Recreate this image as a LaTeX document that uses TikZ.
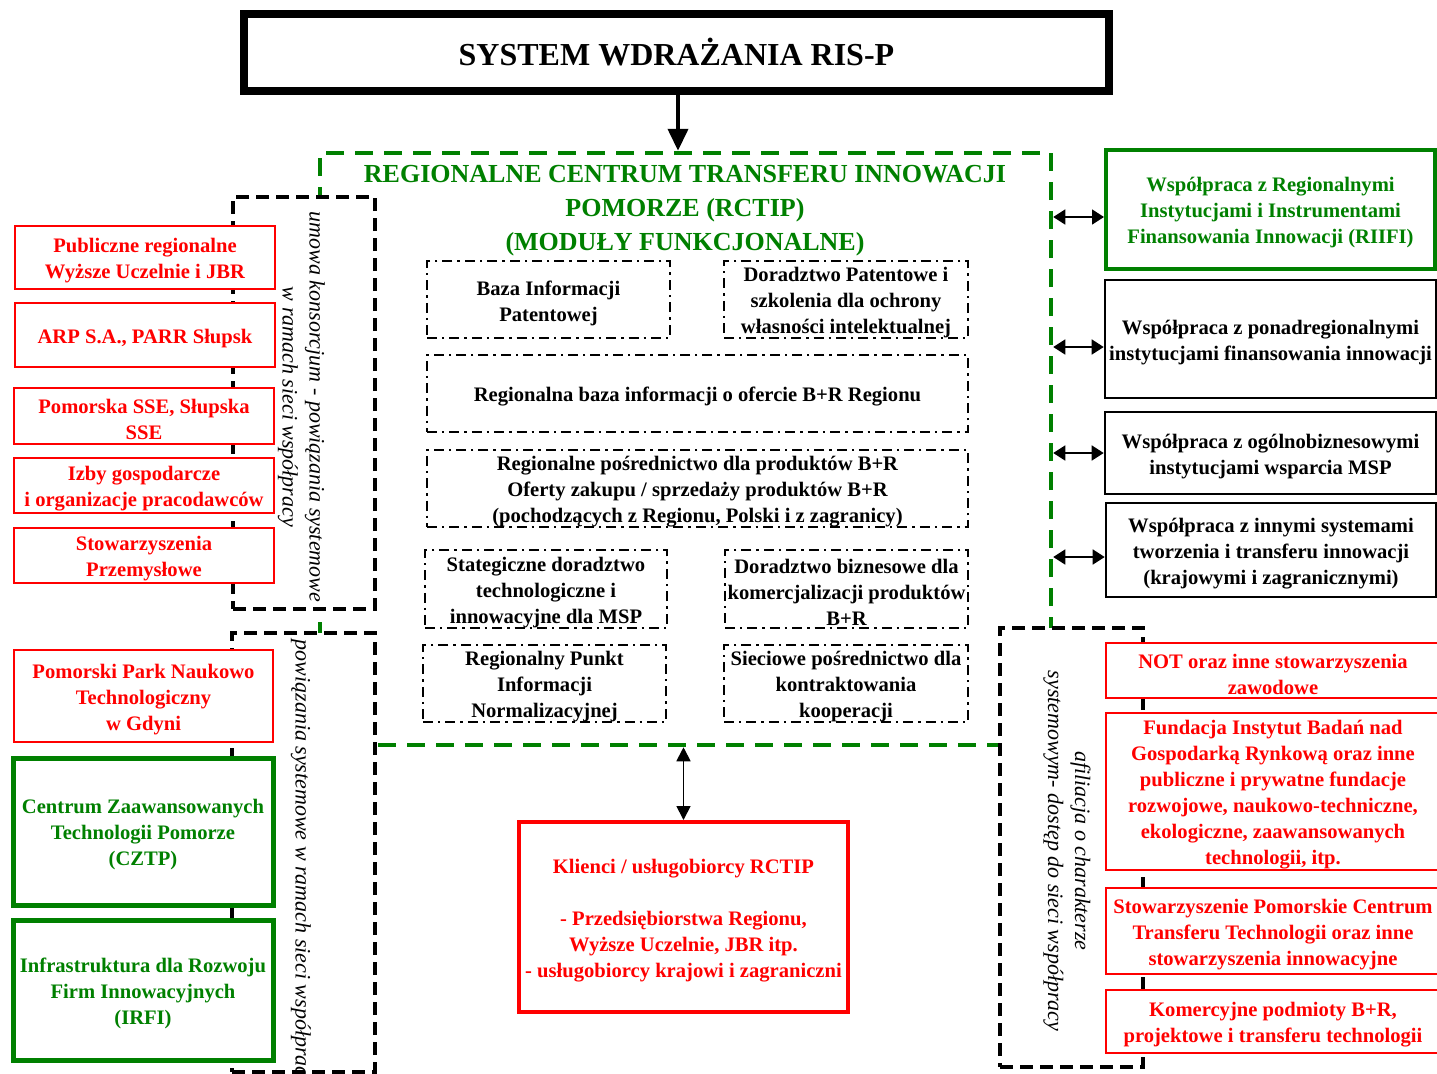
\documentclass[tikz,border=0pt]{standalone}
\usepackage{fontspec}
\setmainfont{Liberation Serif}
\usetikzlibrary{arrows.meta}
\definecolor{rgreen}{RGB}{0,128,0}
\definecolor{rred}{RGB}{255,0,0}
\newcommand\bx[7]{%
  \node[#6, minimum width={(#4-#2)*0.5pt}, minimum height={(#5-#3)*0.5pt}] (#1) at ({(#2+#4)/2},{(#3+#5)/2}) {};%
  \node[#6, draw=none, fill=none] (#1t) at ({(#2+#4)/2},{(#3+#5)/2+3.5}) {#7};}
\tikzset{
 txt/.style={font=\fontsize{10.3}{13}\selectfont\bfseries, align=center, inner sep=0pt},
 redbox/.style={txt, draw=rred, line width=1.4pt, fill=white, text=rred},
 greenbox/.style={txt, draw=rgreen, line width=2.5pt, fill=white, text=rgreen},
 blackbox/.style={txt, draw=black, line width=1.3pt, fill=white},
 modbox/.style={txt, draw=black, line width=1.25pt, dash pattern=on 5pt off 2.5pt on 1.2pt off 2.5pt},
 dashbox/.style={draw=black, line width=1.75pt, dash pattern=on 6.5pt off 3.5pt, fill=white, inner sep=0pt},
 gdash/.style={draw=rgreen, line width=2.25pt, dash pattern=on 9pt off 5.5pt, inner sep=0pt},
 titlebox/.style={draw=black, line width=4pt, fill=white, inner sep=0pt, font=\fontsize{16}{19}\selectfont\bfseries},
 rottxt/.style={font=\fontsize{11}{13.5}\selectfont\itshape, align=center, rotate=-90, inner sep=0pt},
 dbl/.style={{Triangle[length=6pt,width=7.5pt]}-{Triangle[length=6pt,width=7.5pt]}, line width=0.8pt},
 dblk/.style={{Triangle[length=7pt,width=7pt]}-{Triangle[length=7pt,width=7pt]}, line width=0.9pt},
 downarr/.style={-{Triangle[length=11pt,width=10pt]}, line width=2pt},
}
\begin{document}
\begin{tikzpicture}[x=0.5pt,y=-0.5pt]
\useasboundingbox (0,0) rectangle (1437,1073);
% RCTIP frame
\bx{rctip}{320}{153}{1051}{745}{gdash}{}
% dashed grouping boxes
\bx{dL1}{233}{197}{375}{609}{dashbox}{}
\bx{dL2}{232}{633}{375}{1072}{dashbox}{}
\bx{dR}{1000}{628}{1143}{1067}{dashbox}{}
\node[rottxt] (rt1) at (301.5,407) {umowa konsorcjum - powiązania systemowe\\w ramach sieci współpracy};
\node[rottxt] (rt2) at (301,863) {powiązania systemowe w ramach sieci współpracy};
\node[rottxt] (rt3) at (1067,851) {afiliacja o charakterze\\systemowym- dostęp do sieci współpracy};
% title
\node[titlebox, minimum width=432.5pt, minimum height=38.5pt] (title) at (676.5,52.5) {SYSTEM WDRAŻANIA RIS-P};
\draw[downarr] (title.south -| 678,0) -- (rctip.north -| 678,0);
\node[font=\fontsize{13}{17}\selectfont\bfseries, text=rgreen, align=center, inner sep=0pt] (rtitle) at (685,211) {REGIONALNE CENTRUM TRANSFERU INNOWACJI\\POMORZE (RCTIP)\\(MODUŁY FUNKCJONALNE)};
% modules
\bx{m1}{427}{261}{670}{338}{modbox}{Baza Informacji\\Patentowej}
\bx{m2}{724}{261}{968}{338}{modbox}{Doradztwo Patentowe i\\szkolenia dla ochrony\\własności intelektualnej}
\bx{m3}{427}{355}{968}{432}{modbox}{Regionalna baza informacji o ofercie B+R Regionu}
\bx{m4}{427}{450}{968}{527}{modbox}{Regionalne pośrednictwo dla produktów B+R\\Oferty zakupu / sprzedaży produktów B+R\\(pochodzących z Regionu, Polski i z zagranicy)}
\bx{m5}{425}{550}{667}{628}{modbox}{Stategiczne doradztwo\\technologiczne i\\innowacyjne dla MSP}
\bx{m6}{725}{550}{968}{628}{modbox}{Doradztwo biznesowe dla\\komercjalizacji produktów\\B+R}
\bx{m7}{423}{645}{666}{722}{modbox}{Regionalny Punkt\\Informacji\\Normalizacyjnej}
\bx{m8}{724}{645}{968}{722}{modbox}{Sieciowe pośrednictwo dla\\kontraktowania\\kooperacji}
% clients
\bx{kl}{519}{822}{848}{1012}{redbox, line width=2pt}{Klienci / usługobiorcy RCTIP\\[13pt]- Przedsiębiorstwa Regionu,\\Wyższe Uczelnie, JBR itp.\\- usługobiorcy krajowi i zagraniczni}
\draw[dblk] (kl.north) -- (kl.north |- rctip.south);
% left boxes
\bx{l1}{15}{226}{275}{289}{redbox}{Publiczne regionalne\\Wyższe Uczelnie i JBR}
\bx{l2}{15}{303}{275}{367}{redbox}{ARP S.A., PARR Słupsk}
\bx{l3}{14}{388}{274}{444}{redbox}{Pomorska SSE, Słupska\\SSE}
\bx{l4}{14}{458}{274}{513}{redbox}{Izby gospodarcze\\i organizacje pracodawców}
\bx{l5}{14}{528}{274}{583}{redbox}{Stowarzyszenia\\Przemysłowe}
\bx{l6}{14}{650}{273}{742}{redbox}{Pomorski Park Naukowo\\Technologiczny\\w Gdyni}
\bx{l7}{13}{758}{273}{905}{greenbox}{Centrum Zaawansowanych\\Technologii Pomorze\\(CZTP)}
\bx{l8}{13}{920}{273}{1060}{greenbox}{Infrastruktura dla Rozwoju\\Firm Innowacyjnych\\(IRFI)}
% right boxes
\bx{r1}{1106}{150}{1435}{269}{greenbox, line width=2pt}{Współpraca z Regionalnymi\\Instytucjami i Instrumentami\\Finansowania Innowacji (RIIFI)}
\bx{r2}{1105}{280}{1436}{398}{blackbox}{Współpraca z ponadregionalnymi\\instytucjami finansowania innowacji}
\bx{r3}{1105}{412}{1436}{494}{blackbox}{Współpraca z ogólnobiznesowymi\\instytucjami wsparcia MSP}
\bx{r4}{1106}{503}{1436}{597}{blackbox}{Współpraca z innymi systemami\\tworzenia i transferu innowacji\\(krajowymi i zagranicznymi)}
\draw[dbl] (rctip.east |- 0,217) -- (r1.west |- 0,217);
\draw[dbl] (rctip.east |- 0,347) -- (r2.west |- 0,347);
\draw[dbl] (rctip.east |- 0,453) -- (r3.west |- 0,453);
\draw[dbl] (rctip.east |- 0,557) -- (r4.west |- 0,557);
% right bottom boxes
\bx{b1}{1106}{643}{1440}{698}{redbox}{NOT oraz inne stowarzyszenia\\zawodowe}
\bx{b2}{1106}{713}{1440}{870}{redbox}{Fundacja Instytut Badań nad\\Gospodarką Rynkową oraz inne\\publiczne i prywatne fundacje\\rozwojowe, naukowo-techniczne,\\ekologiczne, zaawansowanych\\technologii, itp.}
\bx{b3}{1106}{888}{1440}{974}{redbox}{Stowarzyszenie Pomorskie Centrum\\Transferu Technologii oraz inne\\stowarzyszenia innowacyjne}
\bx{b4}{1106}{990}{1440}{1053}{redbox}{Komercyjne podmioty B+R,\\projektowe i transferu technologii}
\end{tikzpicture}
\end{document}
